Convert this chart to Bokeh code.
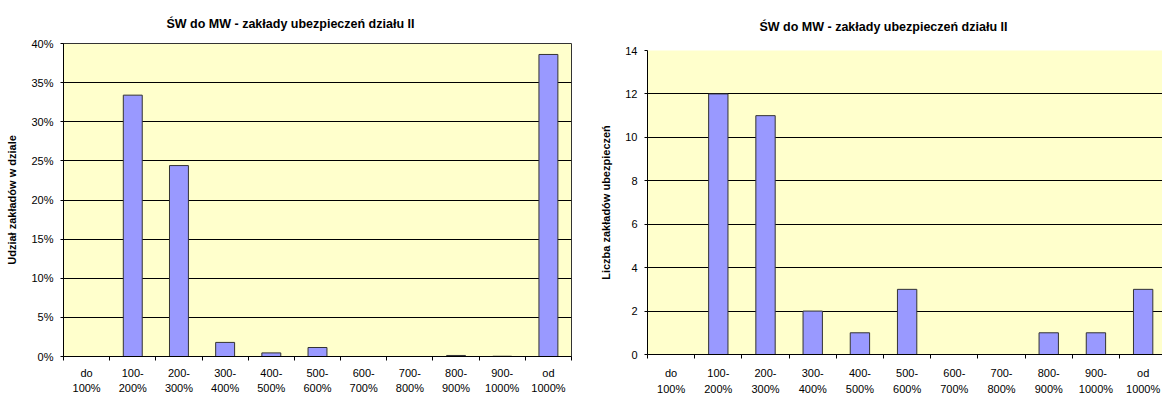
from bokeh.plotting import figure
from bokeh.layouts import row, column
from bokeh.models import Range1d, FixedTicker, PrintfTickFormatter, ColumnDataSource
from bokeh.embed import file_html
from bokeh.resources import INLINE

# Solvency ratio buckets (ŚW do MW)
categories = ["do\n100%", "100-\n200%", "200-\n300%", "300-\n400%", "400-\n500%",
              "500-\n600%", "600-\n700%", "700-\n800%", "800-\n900%", "900-\n1000%",
              "od\n1000%"]
# Share of insurers in the class (percent)
share_pct = [0.0, 33.4, 24.4, 1.8, 0.46, 1.15, 0.0, 0.0, 0.13, 0.03, 38.6]
# Number of insurers
count = [0, 12, 11, 2, 1, 3, 0, 0, 1, 1, 3]

title_text = "ŚW do MW - zakłady ubezpieczeń działu II"
FONT = "Liberation Sans"
BAR_FILL = "#9999FF"
BAR_LINE = "#333333"
BG = "#FFFFCC"

centers = [i + 0.5 for i in range(len(categories))]
bounds = list(range(len(categories) + 1))


def make_chart(values, y_end, y_step, y_label, width, frame_left, frame_right,
               frame_top, frame_bottom, x_end, title_offset, title_standoff,
               label_standoff, label_line_height, pct, outline):
    p = figure(width=width, height=397, output_backend="svg", toolbar_location=None,
               x_range=Range1d(0, x_end), y_range=Range1d(0, y_end),
               min_border_left=frame_left, min_border_right=frame_right,
               min_border_top=frame_top, min_border_bottom=frame_bottom,
               background_fill_color=BG, border_fill_color="white",
               title=title_text)
    p.title.text_font = FONT
    p.title.text_font_size = "12.5px"
    p.title.text_font_style = "bold"
    p.title.text_color = "black"
    p.title.align = "left"
    p.title.offset = title_offset
    p.title.standoff = title_standoff

    src = ColumnDataSource(dict(x=centers, top=values))
    p.vbar(x="x", top="top", bottom=0, width=0.41, source=src,
           fill_color=BAR_FILL, line_color=BAR_LINE, line_width=1)

    # x axis: boundary ticks as minor ticks, labels at category centres
    xa = p.xaxis[0]
    xa.ticker = FixedTicker(ticks=centers, minor_ticks=bounds)
    xa.major_label_overrides = {c: lab for c, lab in zip(centers, categories)}
    xa.major_tick_out = 0
    xa.major_tick_in = 0
    xa.minor_tick_out = 4
    xa.minor_tick_in = 0
    xa.minor_tick_line_color = "black"
    xa.axis_line_color = "black"
    xa.major_label_text_font = FONT
    xa.major_label_text_font_size = "11px"
    xa.major_label_text_color = "black"
    xa.major_label_standoff = label_standoff
    xa.major_label_text_line_height = label_line_height

    ya = p.yaxis[0]
    ya.ticker = FixedTicker(ticks=list(range(0, y_end + 1, y_step)), minor_ticks=[])
    if pct:
        ya.formatter = PrintfTickFormatter(format="%d%%")
    ya.major_tick_out = 3
    ya.major_tick_in = 0
    ya.minor_tick_out = 0
    ya.axis_line_color = "black"
    ya.major_tick_line_color = "black"
    ya.major_label_text_font = FONT
    ya.major_label_text_font_size = "11px"
    ya.major_label_text_color = "black"
    ya.major_label_standoff = 7
    ya.axis_label = y_label
    ya.axis_label_text_font = FONT
    ya.axis_label_text_font_size = "11px"
    ya.axis_label_text_font_style = "bold"
    ya.axis_label_text_color = "black"
    ya.axis_label_standoff = 10

    p.xgrid.grid_line_color = None
    p.ygrid.grid_line_color = "black"
    p.ygrid.grid_line_width = 1
    p.ygrid.ticker = ya.ticker
    p.outline_line_color = "#333333" if outline else None
    return p


left = make_chart(share_pct, 40, 5, "Udział zakładów w dziale", 580, 63, 9, 43, 39,
                  11, 103, 26, 6, 1.3, True, True)
right = make_chart(count, 14, 2, "Liczba zakładów ubezpieczeń", 582, 67, 0, 50, 43,
                   10.91, 112, 34, 8, 1.35, False, False)

# each chart keeps its own plot-area geometry
layout = row(column(left), column(right), spacing=0)
open("out.html", "w").write(file_html(layout, INLINE))
